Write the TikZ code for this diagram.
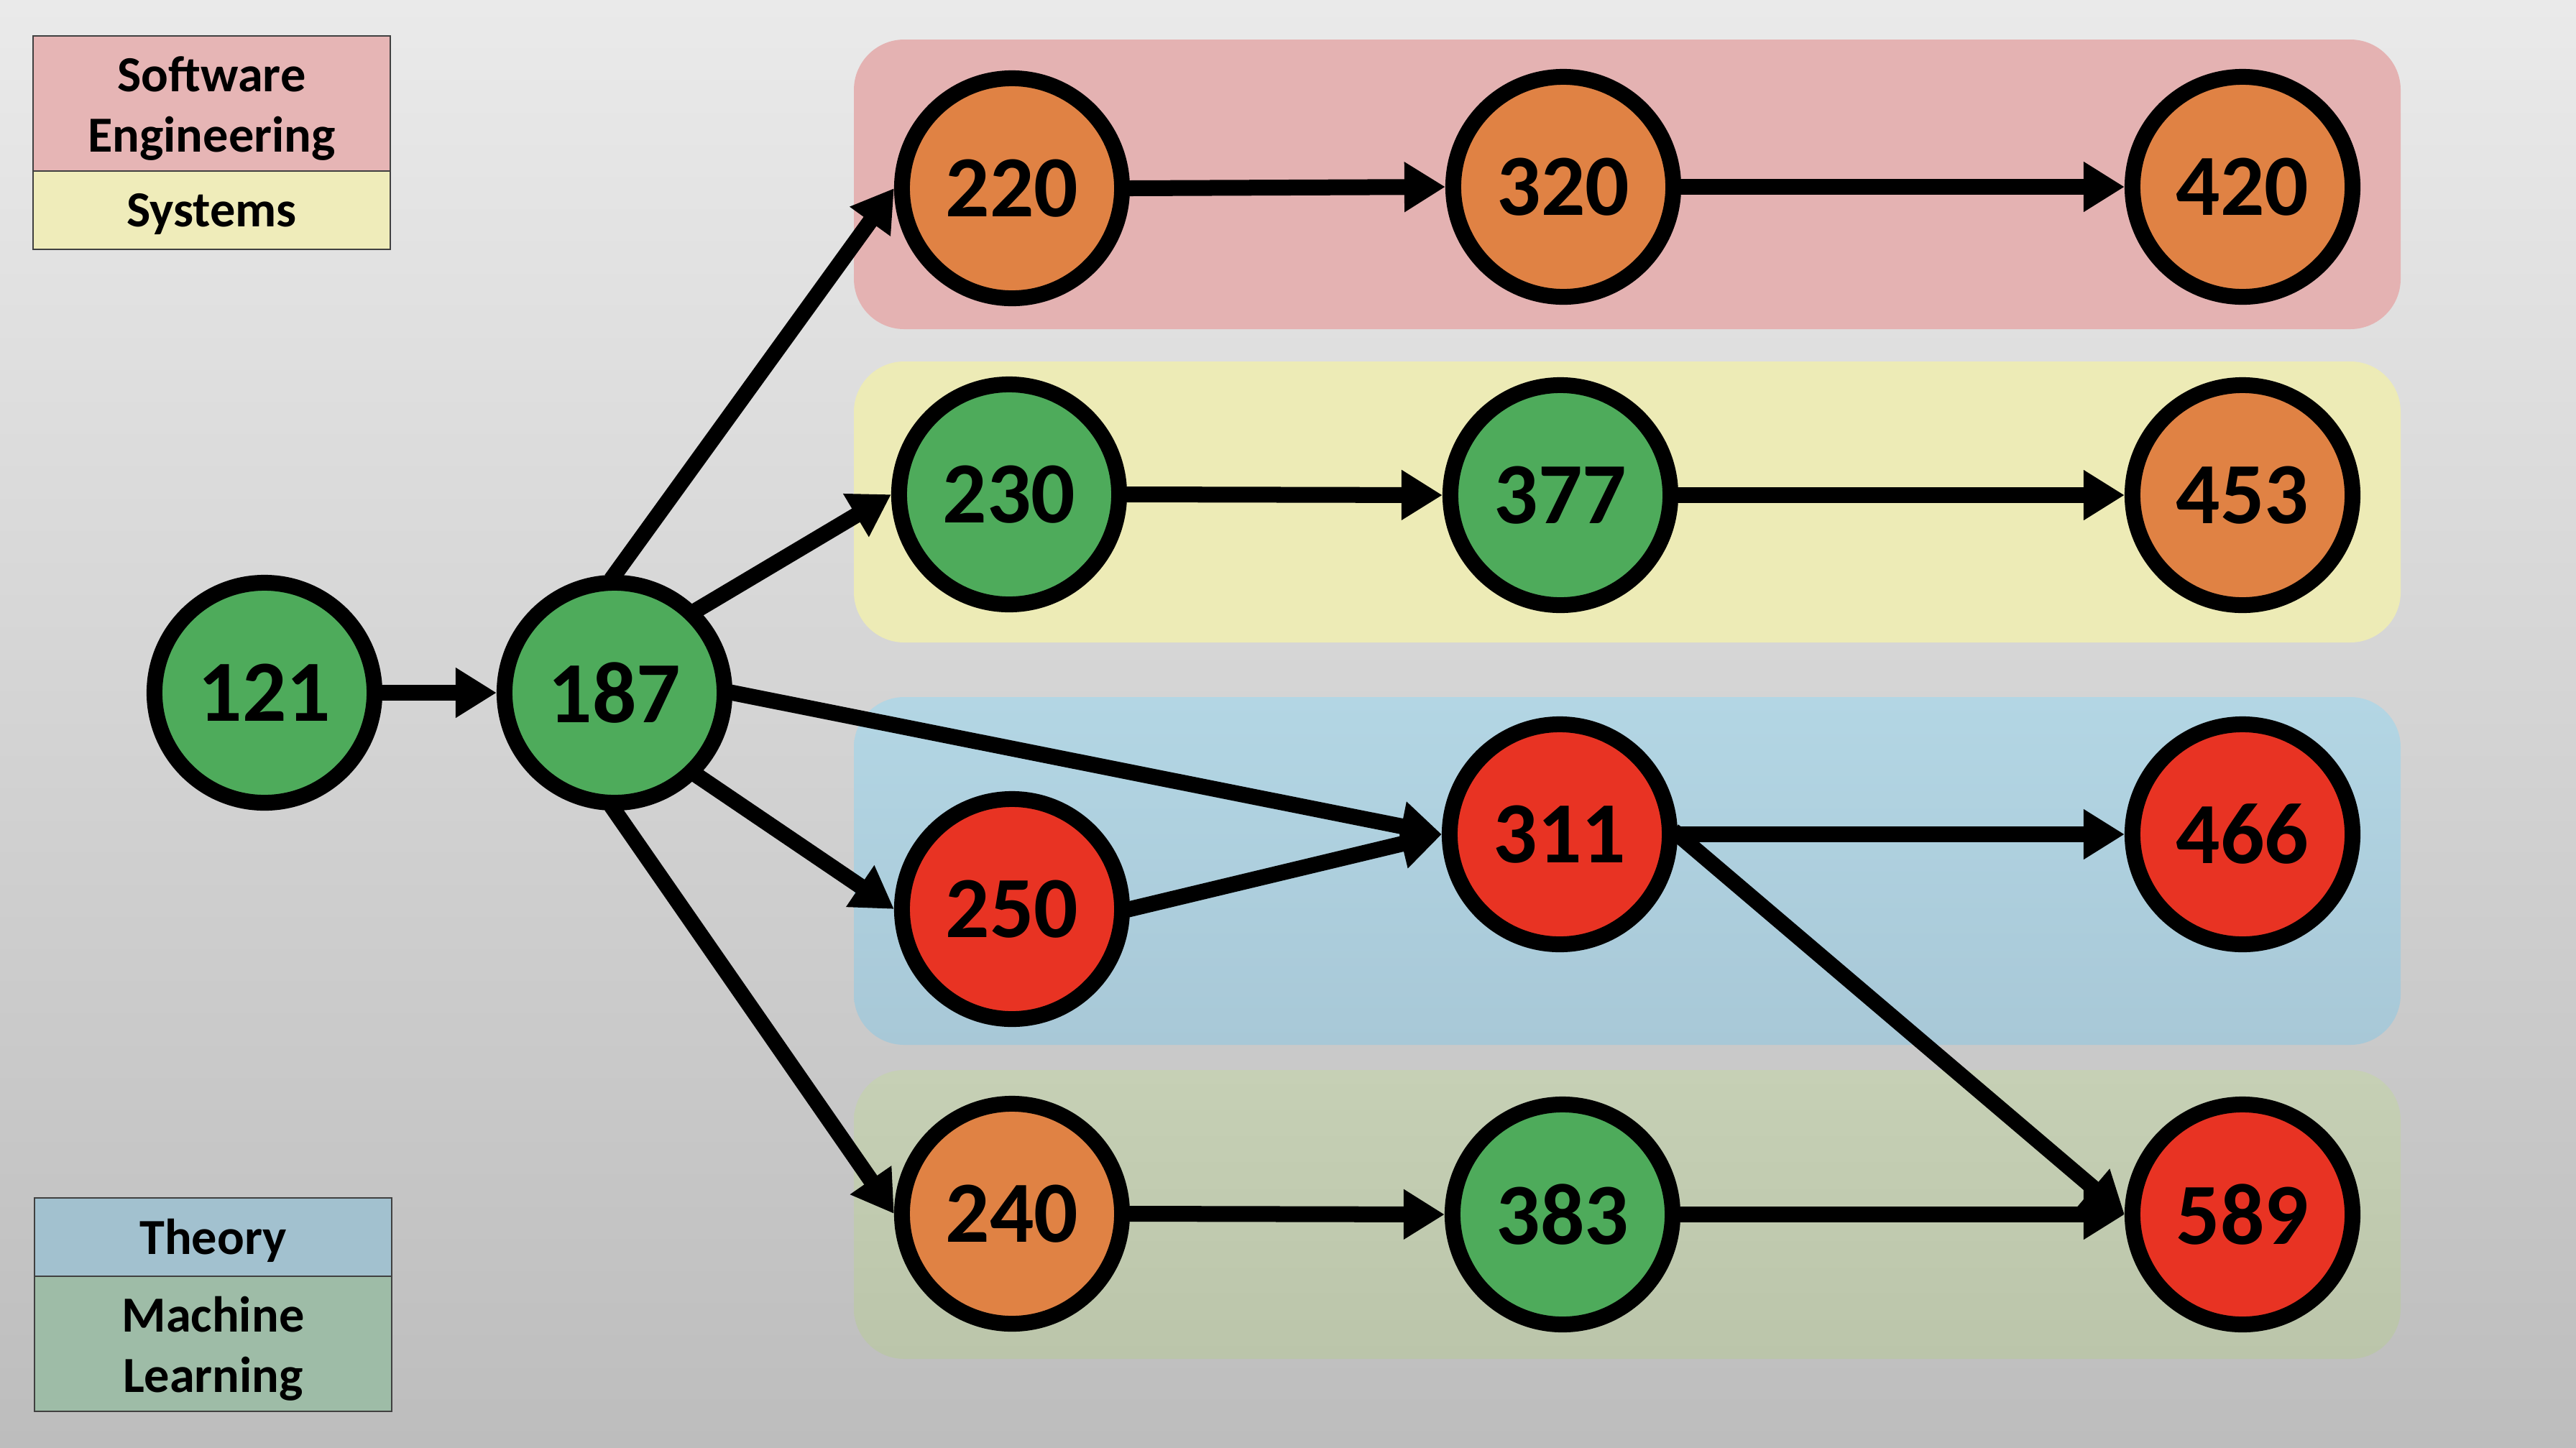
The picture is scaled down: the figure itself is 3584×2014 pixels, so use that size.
\documentclass[tikz,border=0pt]{standalone}
\usepackage{fontspec}
\setmainfont{Carlito}
\usetikzlibrary{arrows.meta}
\definecolor{bgtop}{RGB}{234,234,234}
\definecolor{bgmid}{RGB}{223,223,223}
\definecolor{bgbot}{RGB}{189,189,189}
\definecolor{seband}{RGB}{228,178,178}
\definecolor{sysband}{RGB}{237,235,182}
\definecolor{thtop}{RGB}{179,214,228}
\definecolor{thbot}{RGB}{168,200,215}
\definecolor{mltop}{RGB}{198,208,181}
\definecolor{mlbot}{RGB}{187,197,170}
\definecolor{selegend}{RGB}{230,181,181}
\definecolor{syslegend}{RGB}{239,236,186}
\definecolor{thlegend}{RGB}{162,193,207}
\definecolor{mllegend}{RGB}{158,188,167}
\definecolor{ngreen}{RGB}{78,171,91}
\definecolor{norange}{RGB}{224,130,68}
\definecolor{nred}{RGB}{232,51,35}
\tikzset{
  course/.style={circle, draw=black, line width=0.22cm, minimum size=3.06cm, inner sep=0pt,
    font=\bfseries\fontsize{34.5}{40}\selectfont},
  green/.style={course, fill=ngreen},
  orange/.style={course, fill=norange},
  red/.style={course, fill=nred},
  band/.style={rounded corners=0.7cm},
  legcell/.style={rectangle, draw=black!75, line width=0.6pt, inner sep=0pt, minimum width=4.97cm},
  legtext/.style={inner sep=0pt, align=center, font=\bfseries\fontsize{20}{24}\selectfont},
  arr/.style={line width=0.22cm, -{Triangle[length=0.57cm, width=0.66cm]}, shorten <=-0.08cm},
}
\begin{document}
\begin{tikzpicture}[x=0.01cm, y=-0.01cm]
\useasboundingbox (0,0) rectangle (3584,2014);
% background
\shade[top color=bgtop, middle color=bgmid, bottom color=bgbot] (0,0) rectangle (3584,2014);
% bands
\fill[band, seband] (1188,55) rectangle (3340,458);
\fill[band, sysband] (1188,503) rectangle (3340,894);
\shade[band, top color=thtop, bottom color=thbot] (1188,970) rectangle (3340,1454);
\shade[band, top color=mltop, bottom color=mlbot] (1188,1489) rectangle (3340,1891);
% legends
\node[legcell, fill=selegend, minimum height=1.88cm] (lse) at (294.5,144) {};
\node[legcell, fill=syslegend, minimum height=1.09cm] (lsys) at (294.5,292.5) {};
\node[legcell, fill=thlegend, minimum height=1.09cm] (lth) at (296.5,1721.5) {};
\node[legcell, fill=mllegend, minimum height=1.88cm] (lml) at (296.5,1870) {};
\node[legtext] (tse) at ([yshift=-0.07cm]lse.center) {Software\\Engineering};
\node[legtext] (tsys) at ([yshift=-0.05cm]lsys.center) {Systems};
\node[legtext] (tth) at ([yshift=-0.05cm]lth.center) {Theory};
\node[legtext] (tml) at ([yshift=-0.07cm]lml.center) {Machine\\Learning};
% course nodes
\node[green] (n121) at (368,964) {121};
\node[green] (n187) at (855,964) {187};
\node[orange] (n220) at (1408,262) {220};
\node[orange] (n320) at (2175,260) {320};
\node[orange] (n420) at (3120,260) {420};
\node[green] (n230) at (1404,688) {230};
\node[green] (n377) at (2171,689) {377};
\node[orange] (n453) at (3120,689) {453};
\node[red] (n250) at (1408,1265) {250};
\node[red] (n311) at (2170,1161) {311};
\node[red] (n466) at (3120,1161) {466};
\node[orange] (n240) at (1408,1689) {240};
\node[green] (n383) at (2174,1690) {383};
\node[red] (n589) at (3120,1690) {589};
% connectors
\draw[arr] (n121.east) -- (n187.west);
\draw[arr] (n187.north) -- (n220.west);
\draw[arr] (n187.north east) -- (n230.west);
\draw[arr] (n187.east) -- (n311.west);
\draw[arr] (n187.south east) -- (n250.west);
\draw[arr] (n187.south) -- (n240.west);
\draw[arr] (n250.east) -- (n311.west);
\draw[arr] (n220.east) -- (n320.west);
\draw[arr] (n320.east) -- (n420.west);
\draw[arr] (n230.east) -- (n377.west);
\draw[arr] (n377.east) -- (n453.west);
\draw[arr] (n311.east) -- (n466.west);
\draw[arr] (n311.east) -- (n589.west);
\draw[arr] (n240.east) -- (n383.west);
\draw[arr] (n383.east) -- (n589.west);
\end{tikzpicture}
\end{document}
